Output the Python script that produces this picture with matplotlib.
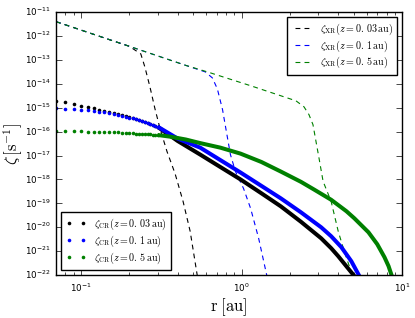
import numpy as np
import matplotlib
matplotlib.use("Agg")
import matplotlib.pyplot as plt
from matplotlib.lines import Line2D

plt.style.use("classic")
plt.rcParams["mathtext.fontset"] = "cm"
plt.rcParams["figure.facecolor"] = "white"
plt.rcParams["savefig.facecolor"] = "white"

# ---------------- data (log10 of zeta in s^-1) ----------------
# X-ray ionisation rates
r_xr_003 = [0.07, 0.1, 0.15, 0.2, 0.236, 0.25, 0.269, 0.289, 0.311, 0.3435, 0.3855, 0.4327, 0.4789, 0.5297, 0.545]
lz_xr_003 = [-11.40, -11.75, -12.15, -12.43, -12.75, -13.29, -14.125, -15.04, -15.875, -16.83, -17.75, -18.92, -20.17, -22.0, -22.5]

r_xr_01 = [0.07, 0.1, 0.15, 0.2, 0.3, 0.45, 0.594, 0.658, 0.707, 0.7617, 0.805, 0.853, 0.917, 1.029, 1.139, 1.278, 1.435, 1.5]
lz_xr_01 = [-11.40, -11.75, -12.15, -12.43, -12.83, -13.23, -13.5, -13.75, -14.21, -15.08, -16.0, -16.96, -17.67, -18.375, -19.21, -20.46, -22.0, -22.6]

r_xr_05 = [0.07, 0.1, 0.15, 0.2, 0.3, 0.45, 0.612, 1.139, 1.756, 2.181, 2.447, 2.63, 2.786, 2.91, 3.04, 3.22, 3.614, 4.0, 4.36, 4.894, 5.1]
lz_xr_05 = [-11.40, -11.75, -12.15, -12.43, -12.83, -13.23, -13.5, -14.08, -14.5, -14.71, -14.96, -15.29, -15.71, -16.42, -17.125, -18.08, -18.92, -20.17, -21.0, -22.0, -22.4]

# cosmic-ray ionisation rates: sparse dots at small r ...
r_dots = [0.07, 0.08, 0.09, 0.10, 0.11, 0.12, 0.13, 0.14, 0.15, 0.16, 0.17, 0.18,
          0.19, 0.20, 0.21, 0.22, 0.23, 0.24, 0.25, 0.26, 0.27, 0.28, 0.29, 0.30]
lz_cr_003_dots = [-14.71, -14.78, -14.85, -14.92, -14.98, -15.03, -15.08, -15.13, -15.18, -15.23, -15.28, -15.32,
                  -15.36, -15.40, -15.45, -15.49, -15.53, -15.57, -15.61, -15.65, -15.68, -15.72, -15.76, -15.80]
lz_cr_01_dots = [-15.03, -15.05, -15.06, -15.08, -15.11, -15.14, -15.17, -15.20, -15.23, -15.27, -15.30, -15.34,
                 -15.38, -15.42, -15.45, -15.49, -15.53, -15.57, -15.60, -15.64, -15.68, -15.72, -15.75, -15.79]
lz_cr_05_dots = [-15.98, -15.98, -15.99, -15.99, -16.00, -16.00, -16.01, -16.01, -16.02, -16.03, -16.03, -16.04,
                 -16.05, -16.06, -16.07, -16.08, -16.08, -16.09, -16.10, -16.11, -16.12, -16.13, -16.13, -16.14]

# ... and the dense (continuous-looking) part at larger r
r_cr_003 = [0.30, 0.4, 0.553, 0.738, 0.9856, 1.33, 1.756, 2.344, 3.13, 3.614, 4.0, 4.487, 5.04, 5.3]
lz_cr_003 = [-15.80, -16.39, -16.96, -17.48, -18.0, -18.58, -19.125, -19.77, -20.46, -20.875, -21.21, -21.625, -22.04, -22.29]

r_cr_01 = [0.30, 0.4, 0.553, 0.738, 0.9856, 1.33, 1.756, 2.344, 3.13, 3.614, 4.18, 4.826, 5.415, 5.75]
lz_cr_01 = [-15.79, -16.29, -16.67, -17.19, -17.71, -18.27, -18.79, -19.375, -20.0, -20.375, -20.83, -21.42, -22.04, -22.42]

r_cr_05 = [0.30, 0.359, 0.45, 0.553, 0.738, 0.9856, 1.33, 1.756, 2.344, 2.825, 3.614, 4.5, 5.04, 6.17, 7.0, 7.76, 8.23, 8.59, 8.84]
lz_cr_05 = [-16.14, -16.21, -16.33, -16.48, -16.67, -16.92, -17.27, -17.67, -18.10, -18.42, -18.85, -19.33, -19.625, -20.21, -20.71, -21.25, -21.625, -22.0, -22.29]

labels_xr = [r"$\zeta_{\rm XR}(z=0.\,03\,{\rm au})$", r"$\zeta_{\rm XR}(z=0.\,1\,{\rm au})$", r"$\zeta_{\rm XR}(z=0.\,5\,{\rm au})$"]
labels_cr = [r"$\zeta_{\rm CR}(z=0.\,03\,{\rm au})$", r"$\zeta_{\rm CR}(z=0.\,1\,{\rm au})$", r"$\zeta_{\rm CR}(z=0.\,5\,{\rm au})$"]
colors = ["k", "b", "g"]

# ---------------- plot ----------------
fig = plt.figure(figsize=(4.15, 3.18), dpi=100)
ax = fig.add_axes([0.135, 0.135, 0.834, 0.827])

dash = (3.5, 3.0)
xr_sets = [(r_xr_003, lz_xr_003), (r_xr_01, lz_xr_01), (r_xr_05, lz_xr_05)]
for (r, lz), c in zip(xr_sets, colors):
    ax.plot(r, 10.0 ** np.array(lz), color=c, ls="--", lw=0.8, dashes=dash)

dot_sets = [lz_cr_003_dots, lz_cr_01_dots, lz_cr_05_dots]
line_sets = [(r_cr_003, lz_cr_003), (r_cr_01, lz_cr_01), (r_cr_05, lz_cr_05)]
for lzd, (r, lz), c in zip(dot_sets, line_sets, colors):
    ax.plot(r_dots, 10.0 ** np.array(lzd), ls="none", marker="o", ms=2.6, mec=c, mfc=c, mew=0)
    ax.plot(r, 10.0 ** np.array(lz), color=c, lw=2.9, solid_capstyle="butt")

ax.set_xscale("log")
ax.set_yscale("log")
ax.set_xlim(0.07, 10)
ax.set_ylim(1e-22, 1e-11)
ax.yaxis.set_major_locator(matplotlib.ticker.LogLocator(base=10, numticks=20))
ax.yaxis.set_minor_locator(matplotlib.ticker.NullLocator())
ax.tick_params(labelsize=6.3, which="both")
ax.tick_params(axis="x", pad=5)
ax.set_xlabel(r"$\rm r\;[au]$", fontsize=12, labelpad=1)
ax.set_ylabel(r"$\zeta\,[\rm s^{-1}]$", fontsize=12)
ax.yaxis.set_label_coords(-0.09, 0.5)

h_xr = [Line2D([], [], color=c, ls="--", lw=0.8, dashes=dash) for c in colors]
h_cr = [Line2D([], [], color=c, ls="none", marker="o", ms=2.6, mew=0) for c in colors]
leg1 = ax.legend(h_xr, labels_xr, loc="upper right", fontsize=7.2, numpoints=2,
                 handlelength=2.0, borderpad=0.45, labelspacing=0.14)
ax.add_artist(leg1)
ax.legend(h_cr, labels_cr, loc="lower left", fontsize=7.2, numpoints=2,
          handlelength=2.0, borderpad=0.45, labelspacing=0.14)

fig.savefig("out.png", dpi=100)
